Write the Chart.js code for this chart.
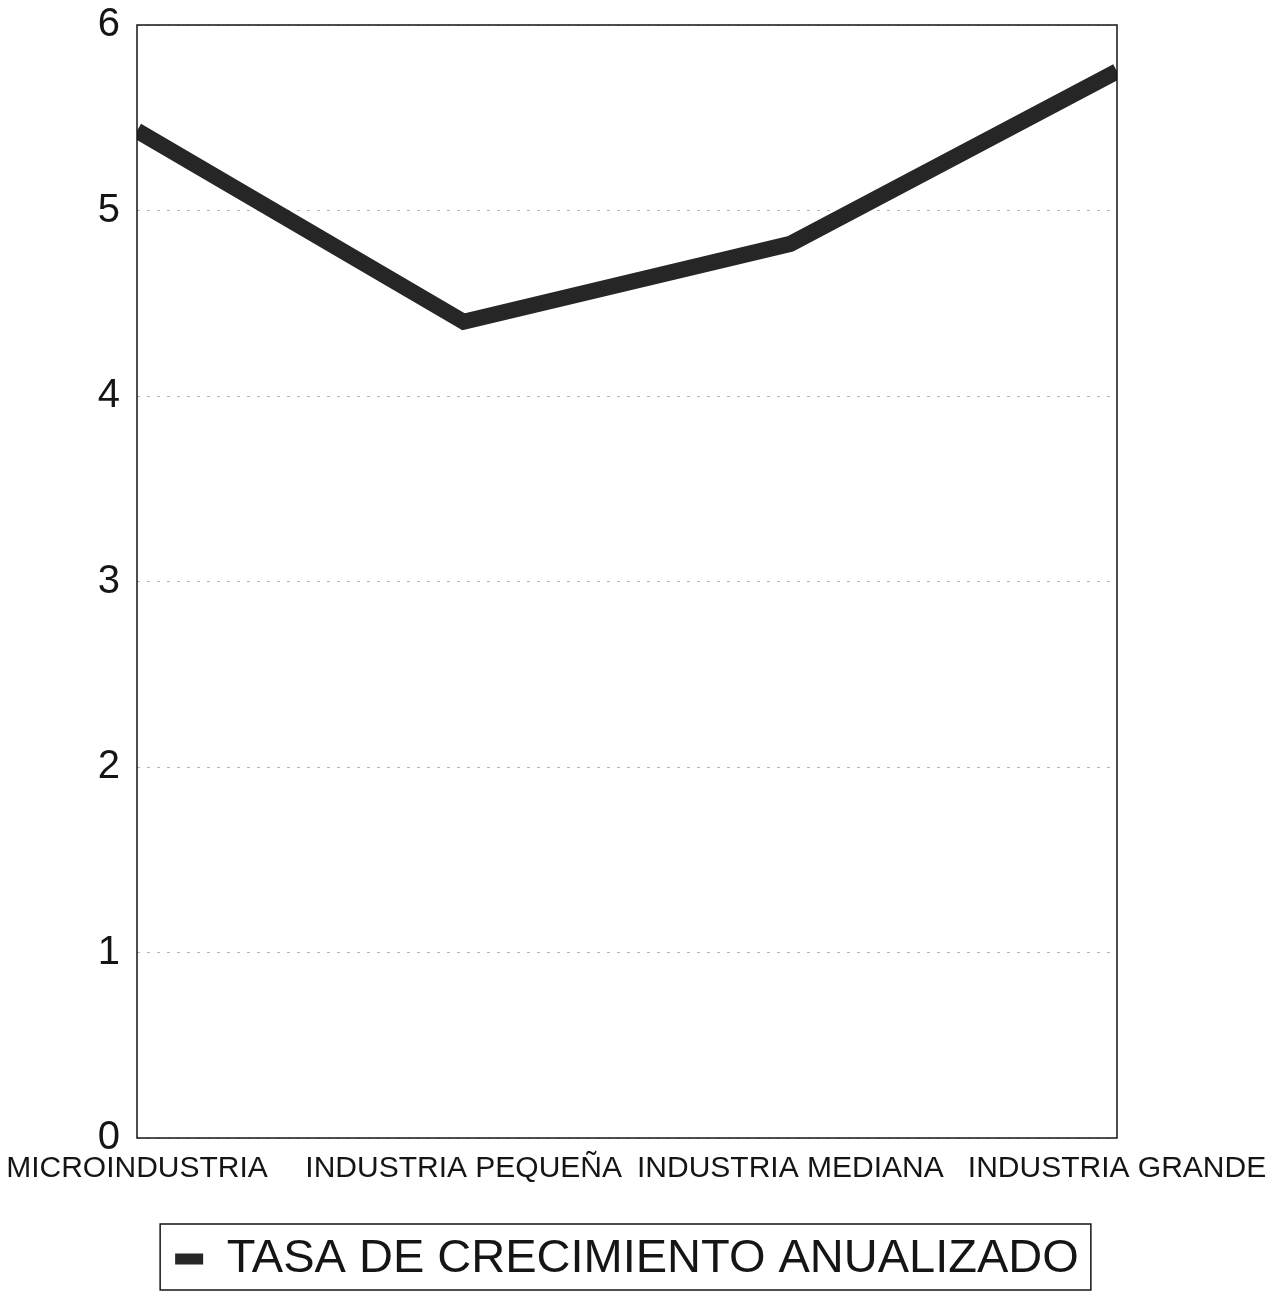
<!DOCTYPE html>
<html>
<head>
<meta charset="utf-8">
<title>Tasa de crecimiento anualizado</title>
<script src="https://cdn.jsdelivr.net/npm/chart.js@4"></script>
<style>
    html, body { margin: 0; padding: 0; background: #fff; }
    #wrap { width: 1287px; height: 1301px; position: relative; }
</style>
</head>
<body>
<div id="wrap"><canvas id="tasaChart"></canvas></div>
<script>
let categories = ["MICROINDUSTRIA", "INDUSTRIA PEQUEÑA", "INDUSTRIA MEDIANA", "INDUSTRIA GRANDE"];
let tasa = [5.43, 4.40, 4.82, 5.75];
let seriesLabel = "TASA DE CRECIMIENTO ANUALIZADO";
let yTicks = [0, 1, 2, 3, 4, 5, 6];

let ink = "#151515";
let lineColor = "#262626";
let fontFamily = "'Liberation Sans', Arial, sans-serif";

// frame around the plot area, drawn over the line ends
let plotFrame = {
    id: "plotFrame",
    afterDatasetsDraw(chart) {
        let a = chart.chartArea;
        let ctx = chart.ctx;
        ctx.save();
        ctx.strokeStyle = ink;
        ctx.lineWidth = 1.5;
        ctx.strokeRect(a.left, a.top, a.right - a.left, a.bottom - a.top);
        ctx.restore();
    }
};

// box around the legend entry
let legendFrame = {
    id: "legendFrame",
    afterDraw(chart) {
        let lg = chart.legend;
        if (!lg || !lg.legendHitBoxes.length) return;
        let hb = lg.legendHitBoxes[0];
        let cy = hb.top + hb.height / 2;
        let ctx = chart.ctx;
        ctx.save();
        ctx.strokeStyle = ink;
        ctx.lineWidth = 1.5;
        ctx.strokeRect(hb.left - 15, cy - 35, hb.width + 27, 66);
        ctx.restore();
    }
};

new Chart(document.getElementById("tasaChart").getContext("2d"), {
    type: "line",
    data: {
        labels: categories,
        datasets: [{
            label: seriesLabel,
            data: tasa,
            borderColor: lineColor,
            backgroundColor: lineColor,
            borderWidth: 16,
            pointRadius: 0,
            tension: 0,
            clip: 0
        }]
    },
    options: {
        responsive: true,
        maintainAspectRatio: false,
        animation: false,
        layout: {
            padding: { top: 25, right: 170, bottom: 8.5, left: 0 }
        },
        plugins: {
            tooltip: { enabled: false },
            legend: {
                display: true,
                position: "bottom",
                fullSize: false,
                labels: {
                    boxWidth: 28,
                    boxHeight: 11,
                    padding: 10,
                    color: ink,
                    font: { family: fontFamily, size: 47 },
                    generateLabels(chart) {
                        let items = Chart.defaults.plugins.legend.labels.generateLabels(chart);
                        items.forEach(it => {
                            it.lineWidth = 0;
                            it.fillStyle = lineColor;
                        });
                        return items;
                    }
                }
            }
        },
        scales: {
            x: {
                offset: false,
                grid: { display: false, drawTicks: false },
                border: { display: false },
                ticks: {
                    color: ink,
                    padding: 13,
                    maxRotation: 0,
                    autoSkip: false,
                    font: { family: fontFamily, size: 30 }
                },
                afterFit(scale) {
                    scale.height = 87.5;
                    scale.paddingLeft = 0;
                    scale.paddingRight = 0;
                }
            },
            y: {
                min: 0,
                max: 6,
                afterBuildTicks(scale) { scale.ticks = yTicks.map(v => ({ value: v })); },
                grid: {
                    color: "#b4b4b4",
                    lineWidth: 1,
                    drawTicks: false
                },
                border: { display: false, dash: [3, 7] },
                ticks: {
                    color: ink,
                    padding: 17,
                    font: { family: fontFamily, size: 40 }
                },
                afterFit(scale) {
                    scale.width = 137;
                    scale.paddingTop = 0;
                    scale.paddingBottom = 0;
                }
            }
        }
    },
    plugins: [plotFrame, legendFrame]
});
</script>
</body>
</html>
